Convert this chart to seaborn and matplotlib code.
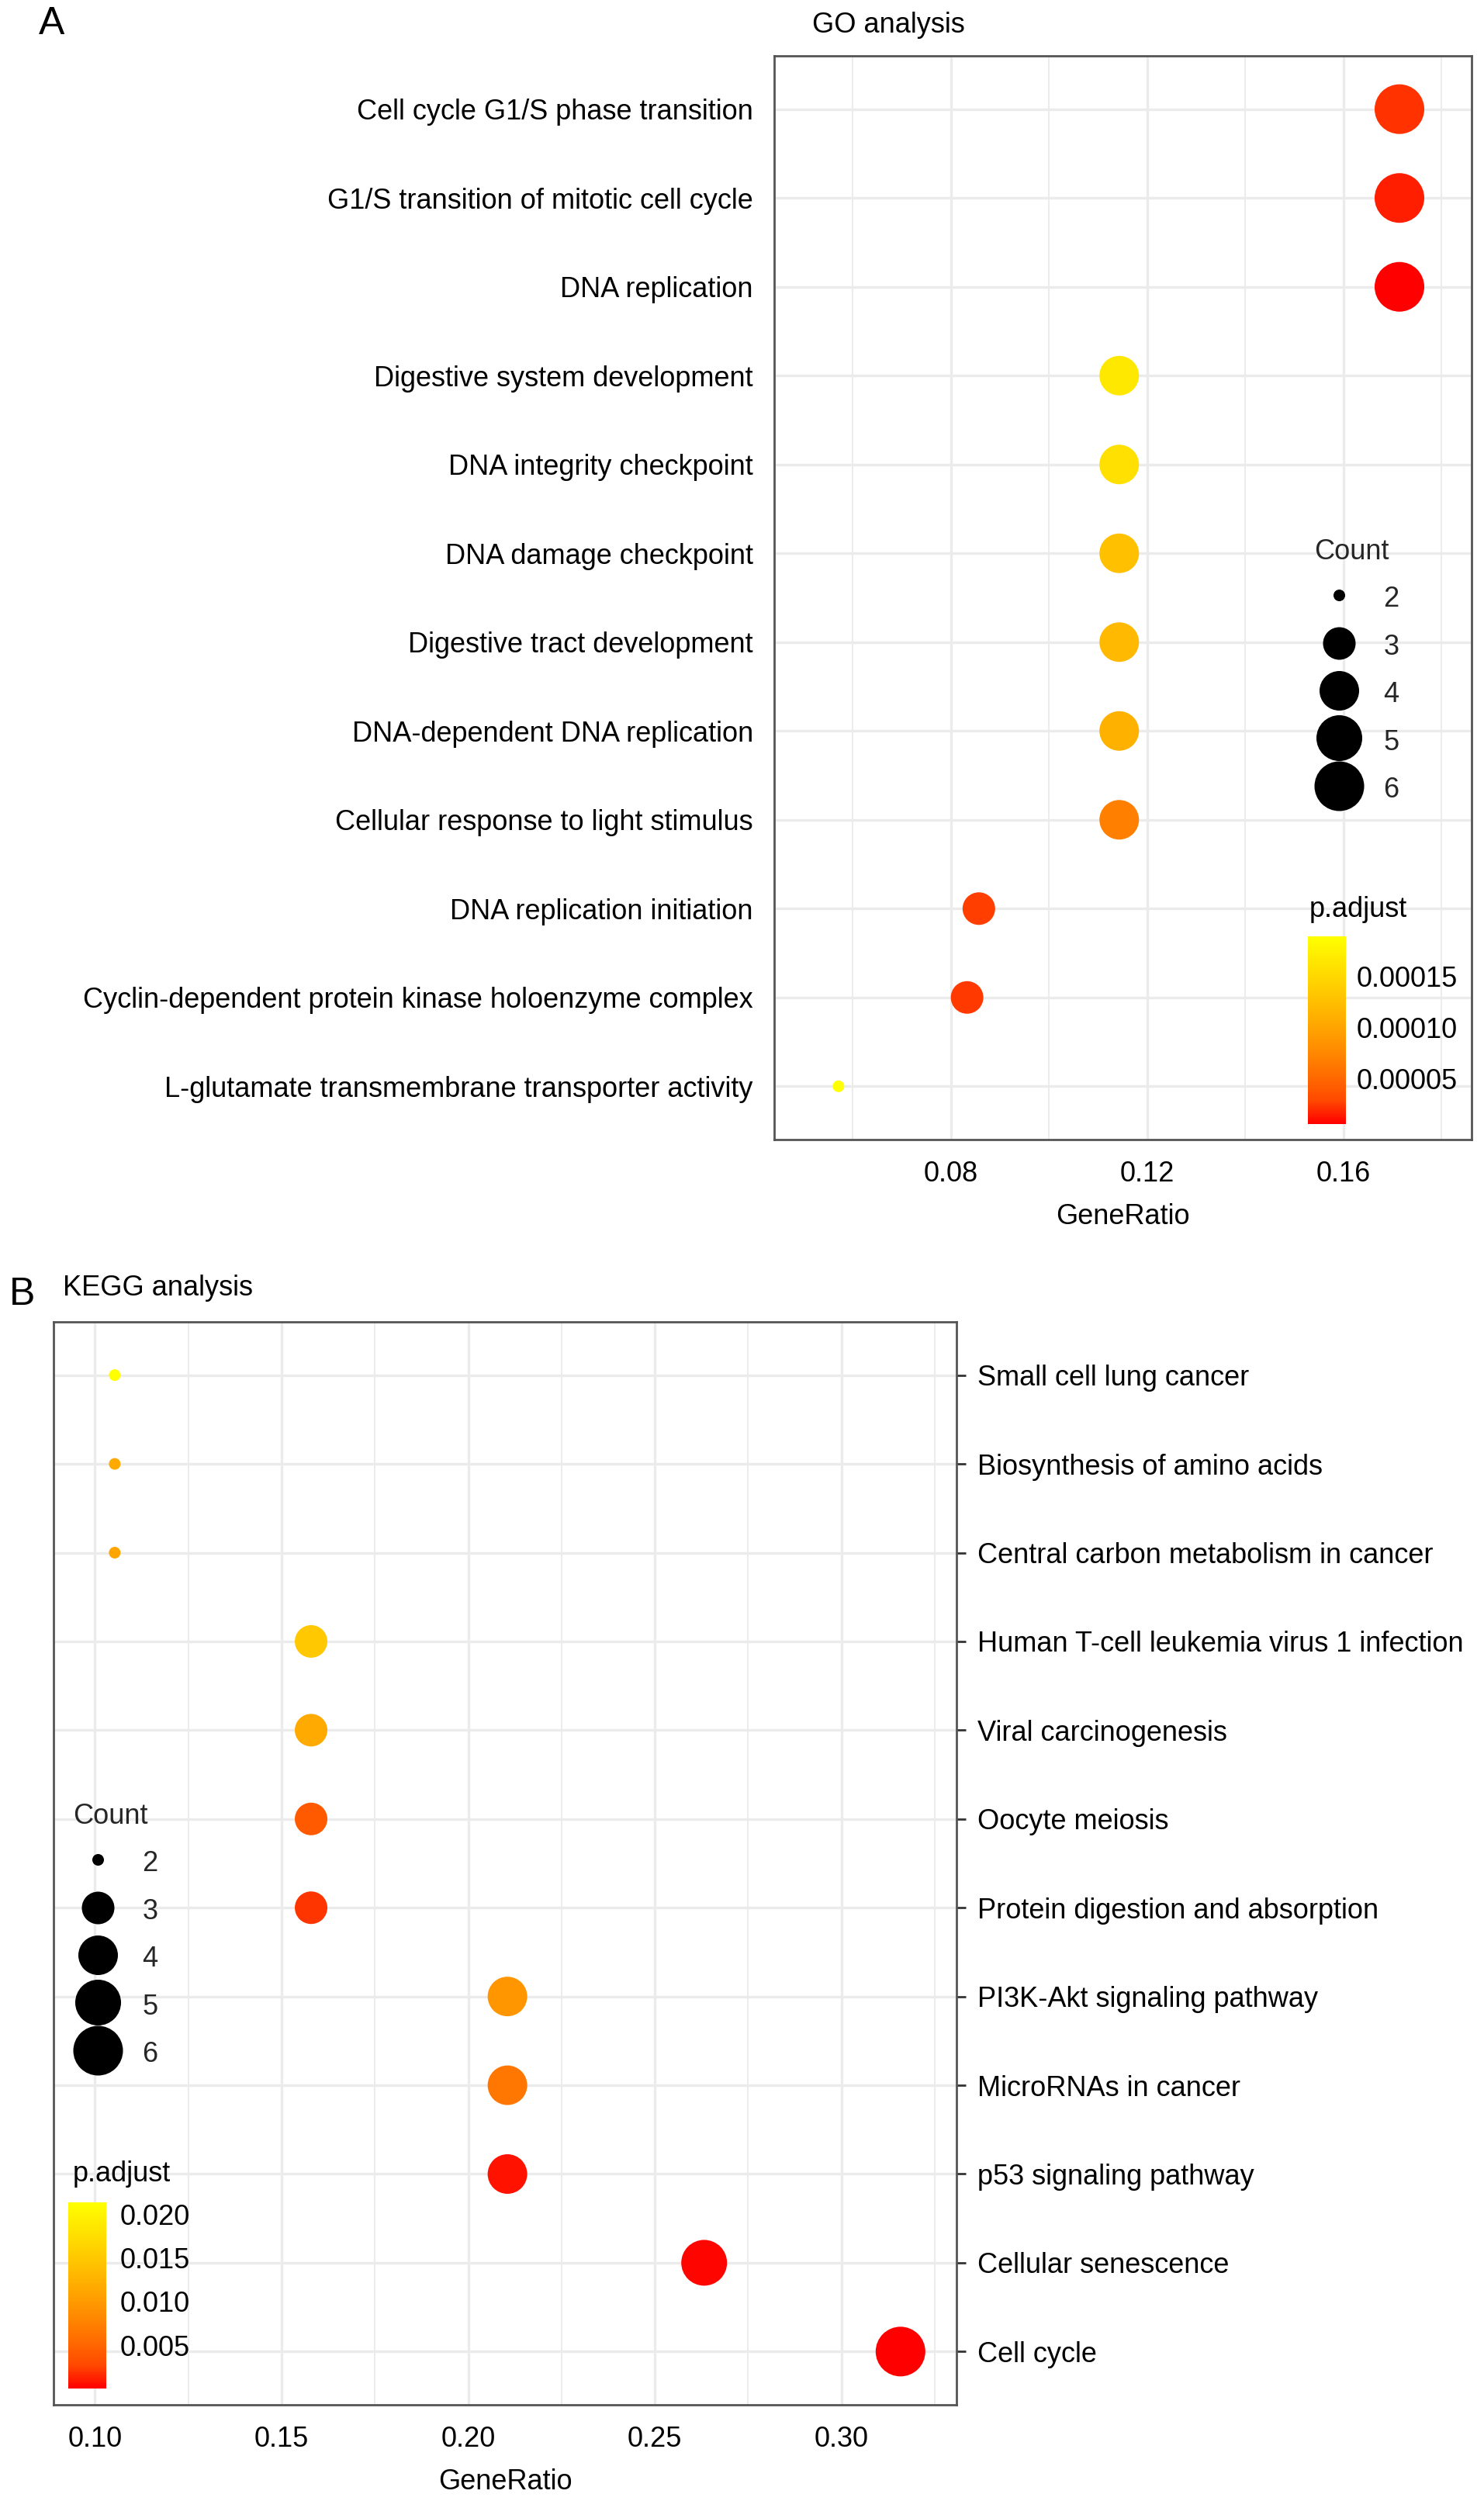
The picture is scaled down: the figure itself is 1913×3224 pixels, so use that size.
#!/usr/bin/env python3
"""
plot.py

Recreate the two enrichment dot plots (GO analysis and KEGG analysis)
stacked in a single tall figure and save it as out.png.
"""

import matplotlib

matplotlib.use("Agg")

import matplotlib.pyplot as plt
import numpy as np
import pandas as pd
import seaborn as sns
from matplotlib.cm import ScalarMappable
from matplotlib.colors import LinearSegmentedColormap, Normalize
from matplotlib.lines import Line2D
from matplotlib.ticker import FormatStrFormatter, MultipleLocator

# ----------------------------------------------------------------------
# Data
# ----------------------------------------------------------------------
go_terms = [
	"Cell cycle G1/S phase transition",
	"G1/S transition of mitotic cell cycle",
	"DNA replication",
	"Digestive system development",
	"DNA integrity checkpoint",
	"DNA damage checkpoint",
	"Digestive tract development",
	"DNA-dependent DNA replication",
	"Cellular response to light stimulus",
	"DNA replication initiation",
	"Cyclin-dependent protein kinase holoenzyme complex",
	"L-glutamate transmembrane transporter activity",
]
go_gene_ratio = [0.1714, 0.1714, 0.1714, 0.1143, 0.1143, 0.1143, 0.1143, 0.1143, 0.1143, 0.0857, 0.0833, 0.0571]
go_count = [6, 6, 6, 4, 4, 4, 4, 4, 4, 3, 3, 2]
go_p_adjust = [
	2.2e-5, 1.6e-5, 6.1e-6, 1.66e-4, 1.58e-4, 1.26e-4,
	1.19e-4, 1.12e-4, 6.9e-5, 2.6e-5, 2.4e-5, 1.89e-4,
]

kegg_terms = [
	"Small cell lung cancer",
	"Biosynthesis of amino acids",
	"Central carbon metabolism in cancer",
	"Human T-cell leukemia virus 1 infection",
	"Viral carcinogenesis",
	"Oocyte meiosis",
	"Protein digestion and absorption",
	"PI3K-Akt signaling pathway",
	"MicroRNAs in cancer",
	"p53 signaling pathway",
	"Cellular senescence",
	"Cell cycle",
]
kegg_gene_ratio = [0.1053, 0.1053, 0.1053, 0.1579, 0.1579, 0.1579, 0.1579, 0.2105, 0.2105, 0.2105, 0.2632, 0.3158]
kegg_count = [2, 2, 2, 3, 3, 3, 3, 4, 4, 4, 5, 6]
kegg_p_adjust = [
	0.0214, 0.0117, 0.0111, 0.0150, 0.0117, 0.0041,
	0.0020, 0.0096, 0.0066, 0.0007, 0.0002, 0.00002,
]

go_cbar_ticks = [0.00005, 0.00010, 0.00015]
kegg_cbar_ticks = [0.005, 0.010, 0.015, 0.020]
count_levels = [2, 3, 4, 5, 6]

# ----------------------------------------------------------------------
# Styling
# ----------------------------------------------------------------------
FIG_W, FIG_H = 1913, 3224
DPI = 100
FONT_SIZE = 26

# marker areas (pt^2) for each Count value
marker_area = [117, 914, 1348, 1806, 2125]
size_map = dict(zip(count_levels, marker_area))

# red -> yellow gradient, interpolated in Lab space like ggplot2
p_adjust_cmap = LinearSegmentedColormap.from_list(
	"p_adjust",
	["#FF0000", "#FF4900", "#FF6A00", "#FF8700", "#FFA100",
	 "#FFBA00", "#FFD100", "#FFE800", "#FFFF00"],
)

GRID_COLOR = "#EBEBEB"
FRAME_COLOR = "#555555"
TICK_COLOR = "#333333"


def px_rect(left, top, right, bottom):
	# Convert a pixel box (origin top-left) into figure fractions.
	return [left / FIG_W, 1 - bottom / FIG_H, (right - left) / FIG_W, (bottom - top) / FIG_H]


def fx(x):
	return x / FIG_W


def fy(y):
	return 1 - y / FIG_H


def draw_dotplot(fig, rect, terms, ratio, count, padj, x_lim, x_step, labels_right):
	df = pd.DataFrame({
		"Description": terms,
		"GeneRatio": ratio,
		"Count": count,
		"p.adjust": padj,
	})
	norm = Normalize(df["p.adjust"].min(), df["p.adjust"].max())

	ax = fig.add_axes(rect)
	ax.set_axisbelow(True)
	sns.scatterplot(
		data=df,
		x="GeneRatio",
		y="Description",
		hue="p.adjust",
		palette=p_adjust_cmap,
		hue_norm=norm,
		size="Count",
		sizes=size_map,
		linewidth=0,
		legend=False,
		ax=ax,
		zorder=3,
	)

	ax.set_xlim(*x_lim)
	ax.set_ylim(len(terms) - 0.4, -0.6)

	ax.xaxis.set_major_locator(MultipleLocator(x_step))
	ax.xaxis.set_minor_locator(MultipleLocator(x_step / 2))
	ax.xaxis.set_major_formatter(FormatStrFormatter("%.2f"))

	ax.grid(which="major", color=GRID_COLOR, linewidth=2.4)
	ax.grid(which="minor", axis="x", color=GRID_COLOR, linewidth=1.3)

	for spine in ax.spines.values():
		spine.set_color(FRAME_COLOR)
		spine.set_linewidth(2.0)

	ax.tick_params(axis="both", which="major", length=8.5, width=2.0,
		color=TICK_COLOR, labelsize=FONT_SIZE, labelcolor="black")
	ax.tick_params(axis="x", which="major", pad=11)
	ax.tick_params(axis="y", which="major", pad=11)
	ax.tick_params(axis="x", which="minor", length=0)

	if labels_right:
		ax.yaxis.tick_right()

	ax.set_ylabel("")
	ax.set_xlabel("GeneRatio", fontsize=FONT_SIZE, color="black", labelpad=14)
	return ax, norm


def add_colorbar(fig, rect, norm, ticks, fmt, title_xy, pad):
	cax = fig.add_axes(rect)
	cb = fig.colorbar(ScalarMappable(norm=norm, cmap=p_adjust_cmap), cax=cax)
	cb.outline.set_visible(False)
	cb.set_ticks(ticks)
	cb.ax.yaxis.set_major_formatter(FormatStrFormatter(fmt))
	cax.tick_params(axis="y", which="both", direction="in", left=True, right=True,
		labelleft=False, labelright=True, length=7, width=1.6, color="white",
		labelsize=FONT_SIZE, labelcolor="black", pad=pad)
	cax.minorticks_off()
	fig.text(fx(title_xy[0]), fy(title_xy[1]), "p.adjust", fontsize=FONT_SIZE,
		ha="left", va="center", color="black")


def add_count_legend(ax, fig, anchor_xy):
	handles = [
		Line2D([], [], marker="o", linestyle="", color="black",
			markeredgewidth=0, markersize=np.sqrt(size_map[c]))
		for c in count_levels
	]
	labels = [str(c) for c in count_levels]
	ax.legend(
		handles,
		labels,
		title="Count",
		loc="upper left",
		bbox_to_anchor=(fx(anchor_xy[0]), fy(anchor_xy[1])),
		bbox_transform=fig.transFigure,
		frameon=False,
		fontsize=FONT_SIZE,
		title_fontsize=FONT_SIZE,
		borderpad=0,
		borderaxespad=0,
		handlelength=1.77,
		handleheight=1.2,
		handletextpad=0.7,
		labelspacing=0.63,
		alignment="left",
	)


def main():
	sns.set_theme(style="white")
	plt.rcParams["font.family"] = ["Liberation Sans", "DejaVu Sans"]

	fig = plt.figure(figsize=(FIG_W / DPI, FIG_H / DPI), dpi=DPI)
	fig.patch.set_facecolor("white")

	# ------------------------------------------------------------------
	# A. GO analysis (labels on the left)
	# ------------------------------------------------------------------
	ax_go, norm_go = draw_dotplot(
		fig, px_rect(998, 72, 1897, 1469),
		go_terms, go_gene_ratio, go_count, go_p_adjust,
		x_lim=(0.0440, 0.1861), x_step=0.04, labels_right=False,
	)
	add_count_legend(ax_go, fig, (1694, 694))
	add_colorbar(fig, px_rect(1686, 1207, 1735, 1449), norm_go,
		go_cbar_ticks, "%.5f", (1688, 1172), pad=10)
	fig.text(fx(50), fy(31), "A", fontsize=36, ha="left", va="center", color="black")
	fig.text(fx(1047), fy(32), "GO analysis", fontsize=FONT_SIZE, ha="left", va="center", color="black")

	# ------------------------------------------------------------------
	# B. KEGG analysis (labels on the right)
	# ------------------------------------------------------------------
	ax_kegg, norm_kegg = draw_dotplot(
		fig, px_rect(69, 1704, 1233, 3100),
		kegg_terms, kegg_gene_ratio, kegg_count, kegg_p_adjust,
		x_lim=(0.0889, 0.3308), x_step=0.05, labels_right=True,
	)
	add_count_legend(ax_kegg, fig, (94, 2324))
	add_colorbar(fig, px_rect(88, 2839, 137, 3079), norm_kegg,
		kegg_cbar_ticks, "%.3f", (94, 2802), pad=13)
	fig.text(fx(12), fy(1669), "B", fontsize=36, ha="left", va="center", color="black")
	fig.text(fx(81), fy(1660), "KEGG analysis", fontsize=FONT_SIZE, ha="left", va="center", color="black")

	fig.savefig("out.png", dpi=DPI, facecolor="white")
	plt.close(fig)


if __name__ == "__main__":
	main()
